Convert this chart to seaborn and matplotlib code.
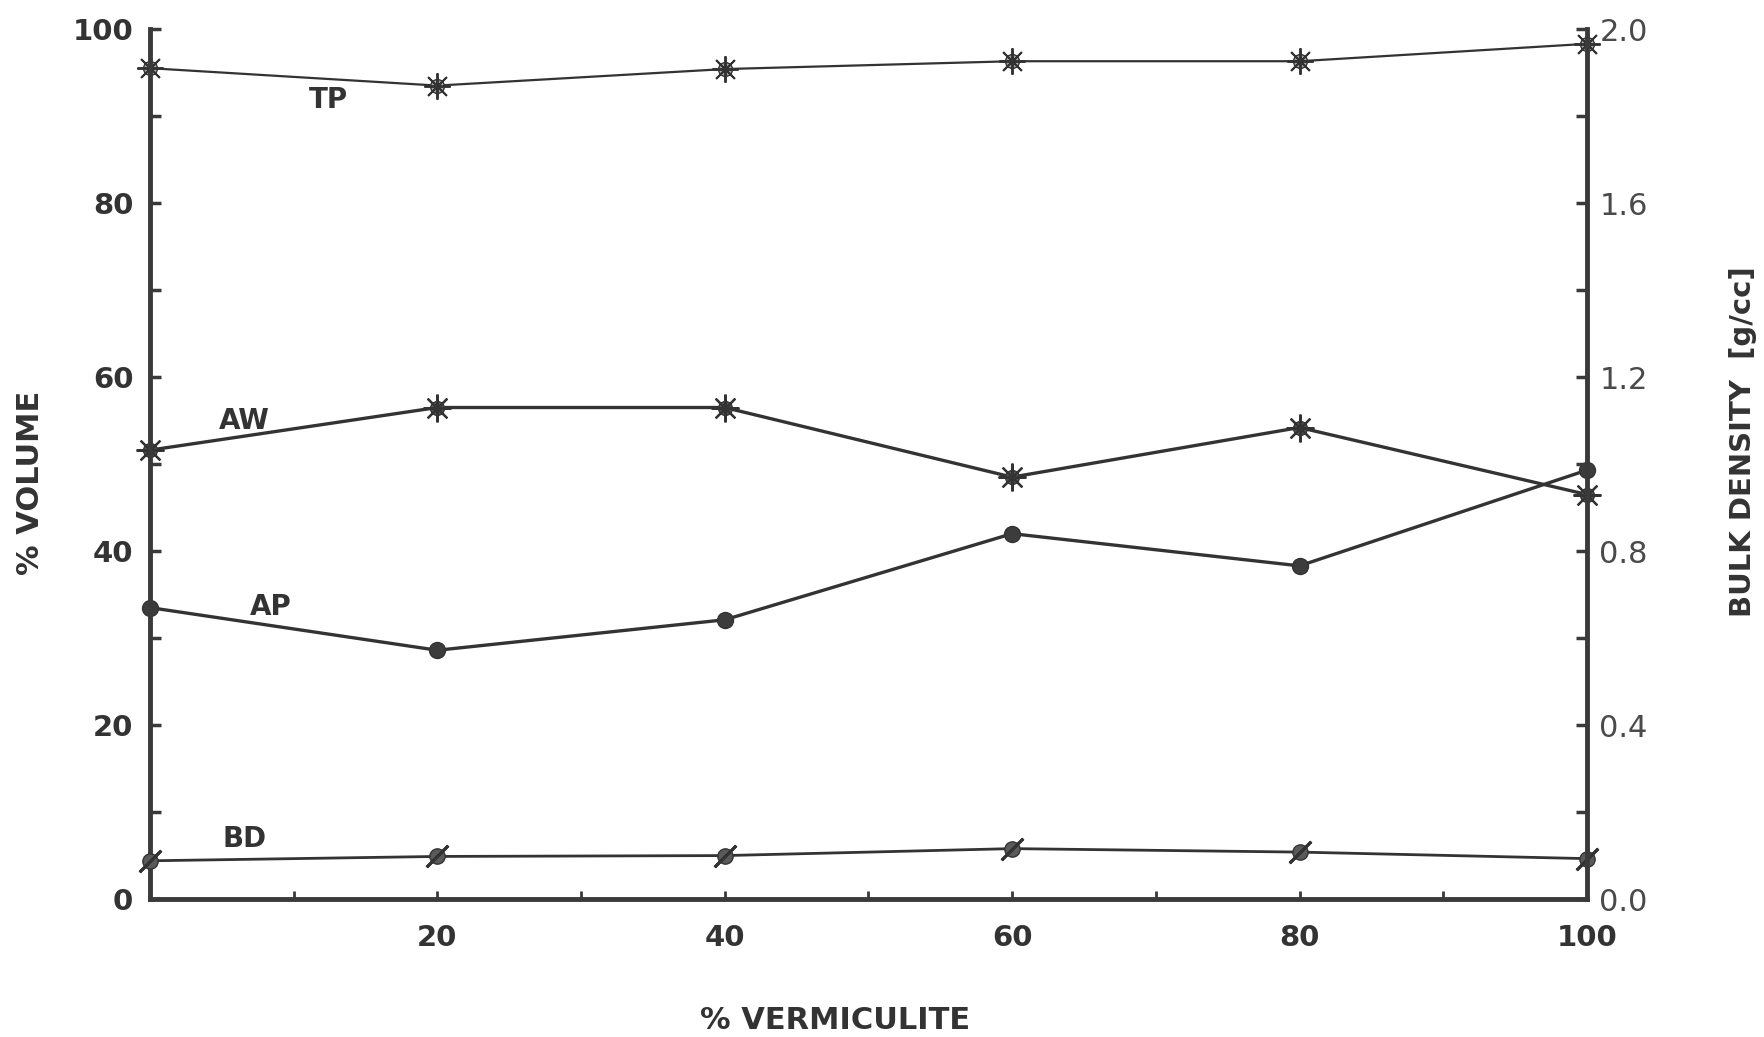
import matplotlib
matplotlib.use("Agg")
import matplotlib.pyplot as plt
import seaborn as sns
from matplotlib.ticker import FormatStrFormatter, MultipleLocator

# ---- data ----
vermiculite = [0, 20, 40, 60, 80, 100]
tp = [95.5, 93.5, 95.4, 96.3, 96.3, 98.3]
aw = [51.6, 56.5, 56.5, 48.5, 54.2, 46.5]
ap = [33.5, 28.6, 32.1, 42.0, 38.3, 49.3]
bd = [0.088, 0.098, 0.100, 0.116, 0.108, 0.093]
left_ticks = [0, 20, 40, 60, 80, 100]
right_ticks = [0.0, 0.4, 0.8, 1.2, 1.6, 2.0]
x_ticks = [20, 40, 60, 80, 100]
series_labels = ["TP", "AW", "AP", "BD"]
label_pos = [(12.4, 91.8), (6.6, 55.0), (8.4, 33.6), (6.6, 6.9)]

sns.set_theme(style="white")
plt.rcParams['font.family'] = ['DejaVu Sans']

ink = "#333333"
spine_c = "#3a3a3a"

fig = plt.figure(figsize=(17.64, 10.37), dpi=100)
fig.patch.set_facecolor("white")
ax = fig.add_axes([0.085, 0.133, 0.8146, 0.839])
ax2 = ax.twinx()

common = dict(clip_on=False)
# TP
sns.lineplot(x=vermiculite, y=tp, ax=ax, color=ink, lw=1.6, marker='o', markersize=10,
             markerfacecolor="#a8a8a8", markeredgecolor=ink, markeredgewidth=1.0, **common)
sns.lineplot(x=vermiculite, y=tp, ax=ax, color=ink, lw=0, marker=(8, 2, 0), markersize=19,
             markeredgecolor=ink, markeredgewidth=1.4, **common)
# AW
sns.lineplot(x=vermiculite, y=aw, ax=ax, color=ink, lw=2.4, marker='o', markersize=10,
             markerfacecolor="#555555", markeredgecolor=ink, markeredgewidth=1.0, **common)
sns.lineplot(x=vermiculite, y=aw, ax=ax, color=ink, lw=0, marker=(8, 2, 0), markersize=20,
             markeredgecolor=ink, markeredgewidth=1.6, **common)
# AP
sns.lineplot(x=vermiculite, y=ap, ax=ax, color=ink, lw=2.4, marker='o', markersize=11.5,
             markerfacecolor="#3c3c3c", markeredgecolor=ink, markeredgewidth=1.0, **common)
# BD (right axis)
sns.lineplot(x=vermiculite, y=bd, ax=ax2, color=ink, lw=2.0, marker='o', markersize=11,
             markerfacecolor="#5a5a5a", markeredgecolor=ink, markeredgewidth=1.0, **common)
sns.lineplot(x=vermiculite, y=bd, ax=ax2, color=ink, lw=0, marker=(2, 2, -45), markersize=22,
             markeredgecolor=ink, markeredgewidth=2.0, **common)

for lab, (lx, ly) in zip(series_labels, label_pos):
    ax.text(lx, ly, lab, ha='center', va='center', fontsize=20, fontweight='bold', color=ink)

ax.set_xlim(0, 100)
ax.set_ylim(0, 100)
ax2.set_ylim(0, 2.0)

ax.set_xticks(x_ticks)
ax.set_xticklabels([str(v) for v in x_ticks])
ax.xaxis.set_minor_locator(MultipleLocator(10))
ax.set_yticks(left_ticks)
ax.set_yticklabels([str(v) for v in left_ticks])
ax.yaxis.set_minor_locator(MultipleLocator(10))
ax2.set_yticks(right_ticks)
ax2.yaxis.set_major_formatter(FormatStrFormatter('%.1f'))
ax2.yaxis.set_minor_locator(MultipleLocator(0.2))

ax.tick_params(axis='x', which='both', direction='in', length=6, width=2, color=spine_c,
               pad=18, labelsize=21, labelcolor=ink, bottom=True)
ax.tick_params(axis='y', which='both', direction='in', length=8, width=2.5, color=spine_c,
               pad=12, labelsize=21, labelcolor=ink, left=True)
ax2.tick_params(axis='y', which='both', direction='in', length=8, width=2.5, color=spine_c,
                pad=9, labelsize=22, labelcolor="#4a4a4a", right=True)
for t in ax.get_xticklabels() + ax.get_yticklabels():
    t.set_fontweight('bold')

for s in ['top', 'right']:
    ax.spines[s].set_visible(False)
for s in ['top', 'left', 'bottom']:
    ax2.spines[s].set_visible(False)
for a, s in [(ax, 'left'), (ax, 'bottom'), (ax2, 'right')]:
    a.spines[s].set_visible(True)
    a.spines[s].set_color(spine_c)
    a.spines[s].set_linewidth(3.5)

ax.set_xlabel("% VERMICULITE", fontsize=22, fontweight='bold', color=ink)
ax.xaxis.set_label_coords(0.477, -0.139)
ax.xaxis.label.set_va('center')
ax.set_ylabel("% VOLUME", fontsize=22, fontweight='bold', color=ink)
ax.yaxis.set_label_coords(-0.083, 0.478)
ax.yaxis.label.set_va('center')
ax2.set_ylabel("BULK DENSITY  [g/cc]", fontsize=21, fontweight='bold', color=ink, rotation=90)
ax2.yaxis.set_label_coords(1.1086, 0.526)
ax2.yaxis.label.set_va('center')

ax.grid(False)
ax2.grid(False)

fig.savefig("out.png", dpi=100, facecolor="white")
